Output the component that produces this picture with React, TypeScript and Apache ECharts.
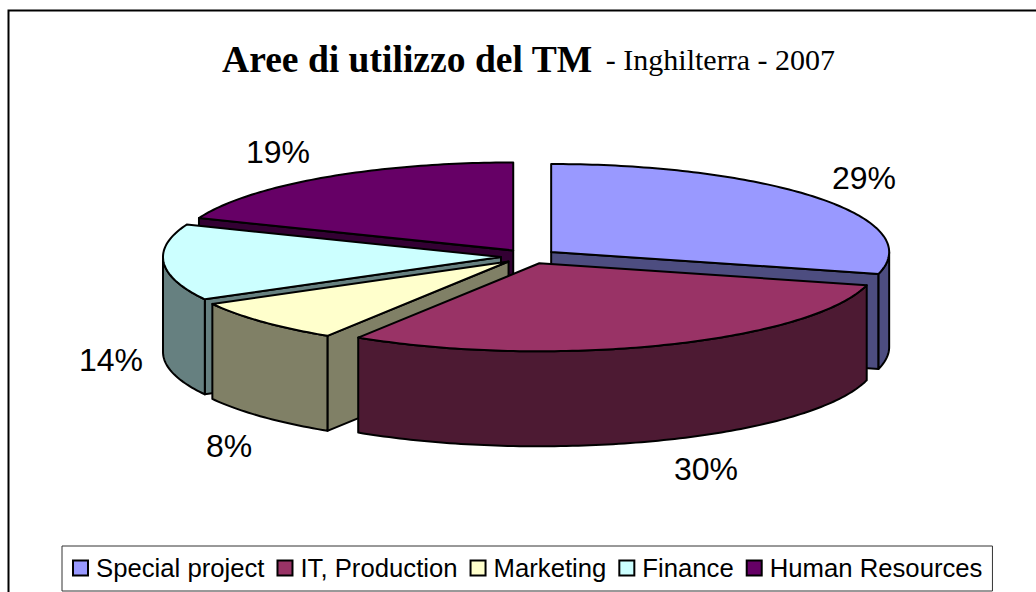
import React, { useEffect, useRef } from "react";
import * as echarts from "echarts";

const categories = ["Special project", "IT, Production", "Marketing", "Finance", "Human Resources"];
const shares = [29, 30, 8, 14, 19];
const topColors = ["#9999ff", "#993366", "#ffffcc", "#ccffff", "#660066"];
const wallColors = ["#4d4d80", "#4d1a33", "#808066", "#668080", "#330033"];
const percentLabels = ["29%", "30%", "8%", "14%", "19%"];
const labelPositions = [[864, 178], [706, 469], [229, 446], [111, 360], [278, 152]];
const drawOrder = [0, 4, 3, 2, 1];

const CX = 529, CY = 256.5, RX = 338, RY = 88, DEPTH = 95, EXPLODE = 0.083;
const total = shares.reduce((a, b) => a + b, 0);
const stroke = { stroke: "#000", lineWidth: 2, lineJoin: "round" };

function renderSlice(index: number) {
  return () => {
    const before = shares.slice(0, index).reduce((a, b) => a + b, 0);
    const a0 = (before / total) * 2 * Math.PI;
    const a1 = ((before + shares[index]) / total) * 2 * Math.PI;
    const mid = (a0 + a1) / 2;
    const ax = CX + Math.sin(mid) * EXPLODE * RX;
    const ay = CY - Math.cos(mid) * EXPLODE * RY;
    const rim = (a: number, d = 0) => [ax + Math.sin(a) * RX, ay - Math.cos(a) * RY + d];
    const arc = (from: number, to: number, d = 0) => {
      const n = Math.max(2, Math.ceil(((to - from) * 180) / Math.PI));
      return Array.from({ length: n + 1 }, (_, i) => rim(from + ((to - from) * i) / n, d));
    };
    const children: any[] = [];
    const poly = (points: number[][], fill: string) =>
      children.push({ type: "polygon", shape: { points }, style: { fill, ...stroke } });

    if (Math.sin(a0) < 0) {
      const p = rim(a0);
      poly([[ax, ay], p, [p[0], p[1] + DEPTH], [ax, ay + DEPTH]], wallColors[index]);
    }
    if (Math.sin(a1) > 0) {
      const p = rim(a1);
      poly([[ax, ay], p, [p[0], p[1] + DEPTH], [ax, ay + DEPTH]], wallColors[index]);
    }
    const f0 = Math.max(a0, Math.PI / 2);
    const f1 = Math.min(a1, (3 * Math.PI) / 2);
    if (f1 > f0) {
      poly([...arc(f0, f1), ...arc(f0, f1, DEPTH).reverse()], wallColors[index]);
    }
    poly([[ax, ay], ...arc(a0, a1)], topColors[index]);
    children.push({
      type: "text",
      style: {
        text: percentLabels[index],
        x: labelPositions[index][0],
        y: labelPositions[index][1],
        align: "center",
        verticalAlign: "middle",
        fill: "#000",
        font: '32px "Liberation Sans"',
      },
    });
    return { type: "group", children };
  };
}

export default function App() {
  const ref = useRef<HTMLDivElement>(null);
  useEffect(() => {
    document.body.style.margin = "0";
    const chart = echarts.init(ref.current!, undefined, { renderer: "svg" });
    chart.setOption({
      animation: false,
      backgroundColor: "#fff",
      title: {
        left: 222,
        top: 40,
        padding: 0,
        text: "{a|Aree di utilizzo del TM} {b|- Inghilterra - 2007}",
        textStyle: {
          rich: {
            a: { fontFamily: "Liberation Serif", fontWeight: "bold", fontSize: 37.6, color: "#000" },
            b: { fontFamily: "Liberation Serif", fontWeight: "normal", fontSize: 30, color: "#000", padding: [0, 0, 0, 8] },
          },
        },
      },
      legend: {
        left: 62,
        top: 546,
        padding: [9, 10, 10, 10],
        itemGap: 12,
        itemWidth: 15,
        itemHeight: 15,
        icon: "rect",
        orient: "horizontal",
        borderColor: "#333",
        borderWidth: 1,
        backgroundColor: "#fff",
        selectedMode: false,
        itemStyle: { borderColor: "#000", borderWidth: 2 },
        textStyle: { color: "#000", fontFamily: "Liberation Sans", fontSize: 25.7, padding: [0, 0, 0, 3] },
        data: categories.map((name) => ({ name, icon: "rect" })),
      },
      graphic: [
        {
          type: "polyline",
          silent: true,
          shape: { points: [[8.5, 592], [8.5, 10.5], [1036, 10.5]] },
          style: { stroke: "#000", lineWidth: 2, fill: "none" },
          z: -1,
        },
      ],
      series: drawOrder.map((i, order) => ({
        type: "custom",
        name: categories[i],
        coordinateSystem: "none",
        z: 2 + order,
        itemStyle: { color: topColors[i] },
        data: [shares[i]],
        renderItem: renderSlice(i),
      })),
    });
    return () => chart.dispose();
  }, []);
  return <div ref={ref} style={{ width: 1036, height: 592 }} />;
}
